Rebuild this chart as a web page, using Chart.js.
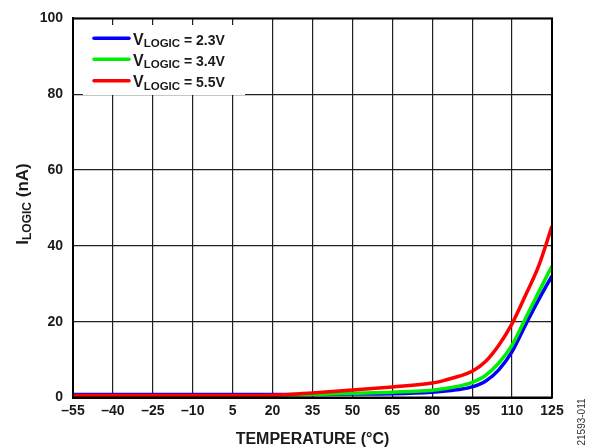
<!DOCTYPE html>
<html>
<head>
<meta charset="utf-8">
<script src="https://cdn.jsdelivr.net/npm/chart.js@4/dist/chart.umd.min.js"></script>
<style>
html,body{margin:0;padding:0;background:#fff;}
#wrap{position:relative;width:595px;height:448px;}
</style>
</head>
<body>
<div id="wrap"><canvas id="c" width="595" height="448"></canvas></div>
<script>
// ---- data ----
const temps = [-55, -40, -25, -10, 5, 20, 35, 50, 65, 80, 85, 90, 95, 100, 105, 110, 115, 120, 125];
const iLogic23 = [0.8, 0.8, 0.8, 0.8, 0.8, 0.8, 0.8, 0.9, 1.0, 1.4, 1.7, 2.1, 2.8, 4.3, 7.3, 12.1, 19.1, 25.8, 32.1];
const iLogic34 = [0.3, 0.3, 0.3, 0.3, 0.3, 0.4, 0.8, 1.1, 1.4, 1.9, 2.4, 3.0, 4.0, 5.8, 9.1, 13.8, 20.8, 27.8, 34.7];
const iLogic55 = [0.55, 0.55, 0.55, 0.55, 0.55, 0.6, 1.2, 2.0, 2.8, 3.8, 4.6, 5.6, 6.9, 9.5, 13.8, 19.5, 26.9, 34.7, 45.2];
const seriesNames = ['2.3V', '3.4V', '5.5V'];
const seriesColors = ['#0000ff', '#00ee00', '#ff0000'];
const xTicks = [-55, -40, -25, -10, 5, 20, 35, 50, 65, 80, 95, 110, 125];
const yTicks = [0, 20, 40, 60, 80, 100];
const xTitle = 'TEMPERATURE (°C)';
const yTitleMain = 'I', yTitleSub = 'LOGIC', yTitleRest = ' (nA)';
const legendMain = 'V', legendSub = 'LOGIC';
const sideNote = '21593-011';

const FF = '"Liberation Sans", Arial, Helvetica, sans-serif';
const TXT = '#1a1a1a';

function pts(arr) { return temps.map((t, i) => ({ x: t, y: arr[i] })); }

function drawParts(ctx, x, y, parts, weight) {
  for (const p of parts) {
    ctx.font = (weight || 'bold') + ' ' + p.size + 'px ' + FF;
    ctx.fillText(p.t, x, y + (p.dy || 0));
    x += ctx.measureText(p.t).width;
  }
  return x;
}
function measureParts(ctx, parts) {
  let w = 0;
  for (const p of parts) {
    ctx.font = 'bold ' + p.size + 'px ' + FF;
    w += ctx.measureText(p.t).width;
  }
  return w;
}

const decor = {
  id: 'decor',
  afterDatasetsDraw(chart) {
    const ctx = chart.ctx;
    const a = chart.chartArea;
    ctx.save();
    // frame
    ctx.strokeStyle = '#000';
    ctx.lineWidth = 2;
    ctx.strokeRect(a.left, a.top, a.right - a.left, a.bottom - a.top);

    // legend
    ctx.fillStyle = '#fff';
    ctx.fillRect(83, 25, 162, 70);
    const rows = [38.3, 59.3, 80.8];
    ctx.lineCap = 'round';
    seriesNames.forEach((n, i) => {
      ctx.strokeStyle = seriesColors[i];
      ctx.lineWidth = 3.5;
      ctx.beginPath();
      ctx.moveTo(94, rows[i]);
      ctx.lineTo(129, rows[i]);
      ctx.stroke();
      ctx.fillStyle = TXT;
      ctx.textAlign = 'left';
      ctx.textBaseline = 'alphabetic';
      drawParts(ctx, 133, rows[i] + 6.5, [
        { t: legendMain, size: 16 },
        { t: legendSub, size: 11.5, dy: 2.3 },
        { t: ' = ' + n, size: 14 }
      ]);
    });

    // x title
    ctx.fillStyle = TXT;
    ctx.textAlign = 'center';
    ctx.textBaseline = 'alphabetic';
    ctx.font = 'bold 16px ' + FF;
    ctx.fillText(xTitle, (a.left + a.right) / 2, 443.5);

    // y title
    ctx.save();
    ctx.translate(27.5, 204);
    ctx.rotate(-Math.PI / 2);
    ctx.textAlign = 'left';
    const yParts = [
      { t: yTitleMain, size: 17 },
      { t: yTitleSub, size: 12, dy: 3.5 },
      { t: yTitleRest, size: 17 }
    ];
    const w = measureParts(ctx, yParts);
    drawParts(ctx, -w / 2, 0, yParts);
    ctx.restore();

    // side note
    ctx.save();
    ctx.translate(585, 422);
    ctx.rotate(-Math.PI / 2);
    ctx.textAlign = 'center';
    ctx.fillStyle = '#333';
    ctx.font = '10px ' + FF;
    ctx.fillText(sideNote, 0, 0);
    ctx.restore();

    ctx.restore();
  }
};

new Chart(document.getElementById('c'), {
  type: 'line',
  data: {
    datasets: [
      { label: seriesNames[0], data: pts(iLogic23), borderColor: seriesColors[0], order: 2 },
      { label: seriesNames[1], data: pts(iLogic34), borderColor: seriesColors[1], order: 1 },
      { label: seriesNames[2], data: pts(iLogic55), borderColor: seriesColors[2], order: 0 }
    ]
  },
  options: {
    responsive: false,
    animation: false,
    layout: { padding: { left: 0, right: 43, top: 15, bottom: 0 } },
    elements: {
      point: { radius: 0, hoverRadius: 0 },
      line: { borderWidth: 3.5, cubicInterpolationMode: 'monotone', fill: false }
    },
    plugins: { legend: { display: false }, tooltip: { enabled: false }, title: { display: false } },
    scales: {
      x: {
        type: 'linear',
        min: -55, max: 125,
        afterBuildTicks: s => { s.ticks = xTicks.map(v => ({ value: v })); },
        afterFit: s => { s.height = 50.5; },
        grid: { color: '#231f20', lineWidth: 1.2, drawTicks: false },
        border: { color: '#000', width: 2 },
        ticks: {
          autoSkip: false, maxRotation: 0, padding: 5, color: TXT,
          font: { family: FF, size: 14, weight: 'bold' },
          callback: v => v < 0 ? '\u2013' + Math.abs(v) : String(v)
        }
      },
      y: {
        type: 'linear',
        min: 0, max: 100,
        afterBuildTicks: s => { s.ticks = yTicks.map(v => ({ value: v })); },
        afterFit: s => { s.width = 73; },
        grid: { color: '#231f20', lineWidth: 1.2, drawTicks: false },
        border: { color: '#000', width: 2 },
        ticks: {
          padding: 10, color: TXT,
          font: { family: FF, size: 14, weight: 'bold' },
          callback: v => String(v)
        }
      }
    }
  },
  plugins: [decor]
});
</script>
</body>
</html>
